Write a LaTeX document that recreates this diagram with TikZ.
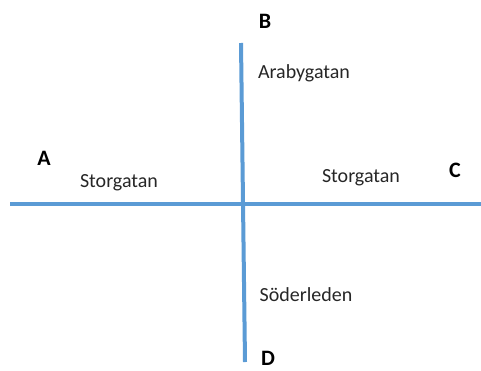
\documentclass[tikz,border=0pt]{standalone}
\usepackage{fontspec}
\setmainfont{Carlito}
\definecolor{roadblue}{HTML}{5B9BD5}
\begin{document}
\begin{tikzpicture}[x=1pt,y=-1pt,
  road/.style={draw=roadblue,line width=4pt},
  streetname/.style={font=\fontsize{20}{24}\selectfont,text=black!85,inner sep=0pt},
  endlabel/.style={font=\fontsize{22}{26}\selectfont\bfseries,inner sep=0pt}]
  \useasboundingbox (0,0) rectangle (481,370);
  % road ends
  \coordinate (west) at (10,204);
  \coordinate (east) at (481,204);
  \coordinate (north) at (241,43);
  \coordinate (south) at (245,362);
  % roads
  \draw[road] (west) -- (east);
  \draw[road] (north) -- (south);
  % end letters
  \node[endlabel] (A) at (44,158) {A};
  \node[endlabel] (B) at (265,21) {B};
  \node[endlabel] (C) at (455,170) {C};
  \node[endlabel] (D) at (268,358) {D};
  % street names
  \node[streetname] (arab) at (304,73) {Arabygatan};
  \node[streetname] (storw) at (119,183) {Storgatan};
  \node[streetname] (store) at (361,178) {Storgatan};
  \node[streetname] (soder) at (306,295) {Söderleden};
\end{tikzpicture}
\end{document}
